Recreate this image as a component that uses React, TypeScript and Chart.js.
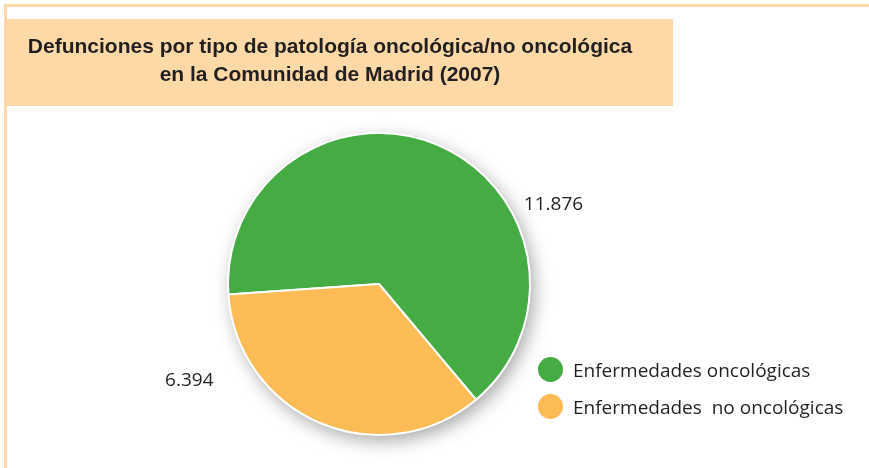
import React, { useEffect, useRef } from "react";
import { Chart, registerables } from "chart.js";

Chart.register(...registerables);

const title = ["Defunciones por tipo de patología oncológica/no oncológica", "en la Comunidad de Madrid (2007)"];
const categories = ["Enfermedades oncológicas", "Enfermedades  no oncológicas"];
const values = [11876, 6394];
const valueLabels = ["11.876", "6.394"];
const colors = ["#45ab43", "#fdbc55"];

const FONT = "'Open Sans', 'Liberation Sans', sans-serif";

const shadowPlugin = {
  id: "pieShadow",
  beforeDatasetsDraw(chart: any) {
    const arc = chart.getDatasetMeta(0).data[0];
    if (!arc) return;
    const ctx = chart.ctx;
    ctx.save();
    ctx.shadowColor = "rgba(0,0,0,0.35)";
    ctx.shadowBlur = 18;
    ctx.shadowOffsetX = 4;
    ctx.shadowOffsetY = 6;
    ctx.fillStyle = "#ffffff";
    ctx.beginPath();
    ctx.arc(arc.x, arc.y, arc.outerRadius, 0, Math.PI * 2);
    ctx.fill();
    ctx.restore();
  },
};

// label placement (angle in degrees on screen, distance factor from radius)
const labelPlacement = [
  { angle: -24.5, dist: 1.27 },
  { angle: 153, dist: 1.41 },
];

const valueLabelPlugin = {
  id: "valueLabels",
  afterDatasetsDraw(chart: any) {
    const meta = chart.getDatasetMeta(0);
    const ctx = chart.ctx;
    ctx.save();
    ctx.font = `19px ${FONT}`;
    ctx.fillStyle = "#231f20";
    ctx.textAlign = "center";
    ctx.textBaseline = "middle";
    meta.data.forEach((arc: any, i: number) => {
      const p = labelPlacement[i];
      const a = (p.angle * Math.PI) / 180;
      const r = arc.outerRadius * p.dist;
      ctx.fillText(valueLabels[i], arc.x + Math.cos(a) * r, arc.y + Math.sin(a) * r);
    });
    ctx.restore();
  },
};

export default function App() {
  const ref = useRef<HTMLCanvasElement | null>(null);
  useEffect(() => {
    document.body.style.margin = "0";
    const chart = new Chart(ref.current!, {
      type: "pie",
      data: {
        labels: categories,
        datasets: [
          {
            data: values,
            backgroundColor: colors,
            borderColor: "#ffffff",
            borderWidth: 2,
          },
        ],
      },
      options: {
        animation: false,
        responsive: false,
        rotation: 266,
        layout: { padding: { left: 227, top: 132, right: 338, bottom: 32 } },
        plugins: {
          legend: { display: false },
          tooltip: { enabled: false },
          title: { display: false },
        },
      },
      plugins: [shadowPlugin, valueLabelPlugin],
    });
    return () => chart.destroy();
  }, []);

  return (
    <div style={{ position: "relative", width: 869, height: 468, overflow: "hidden", background: "#fff" }}>
      <div
        style={{
          position: "absolute",
          left: 4,
          top: 4,
          right: -10,
          bottom: -10,
          borderTop: "3px solid #fdd9aa",
          borderLeft: "3px solid #fdd9aa",
        }}
      />
      <div
        style={{
          position: "absolute",
          left: 7,
          top: 19,
          width: 666,
          height: 87,
          background: "#fed9a7",
        }}
      />
      <canvas ref={ref} width={869} height={468} style={{ position: "absolute", left: 0, top: 0 }} />
      <div
        style={{
          position: "absolute",
          left: 7,
          top: 32,
          width: 646,
          textAlign: "center",
          fontFamily: "'Liberation Sans', Arial, sans-serif",
          fontWeight: "bold",
          fontSize: 21,
          lineHeight: "28px",
          color: "#231f20",
        }}
      >
        {title.map((t, i) => (
          <div key={i}>{t}</div>
        ))}
      </div>
      <div style={{ position: "absolute", left: 538, top: 351 }}>
        {categories.map((c, i) => (
          <div key={i} style={{ display: "flex", alignItems: "center", height: 37 }}>
            <span
              style={{
                display: "inline-block",
                width: 25,
                height: 25,
                borderRadius: "50%",
                background: colors[i],
                marginRight: 10,
              }}
            />
            <span style={{ fontFamily: FONT, fontSize: 19, color: "#231f20", whiteSpace: "pre" }}>{c}</span>
          </div>
        ))}
      </div>
    </div>
  );
}
